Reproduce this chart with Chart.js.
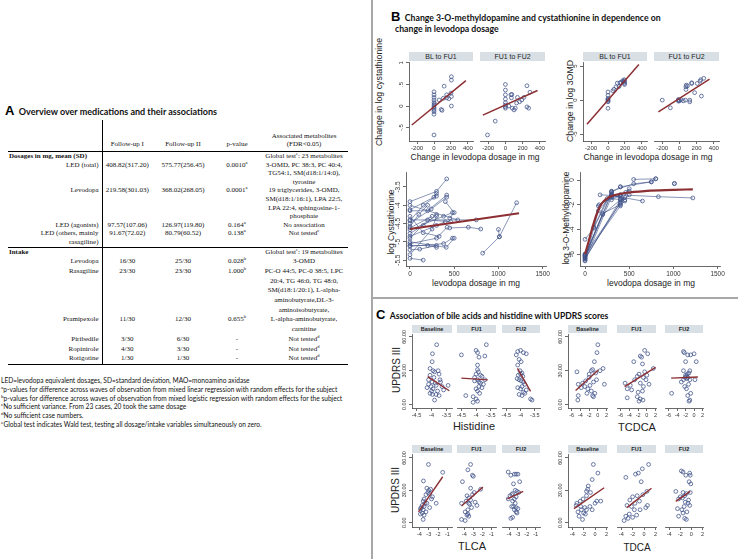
<!DOCTYPE html>
<html>
<head>
<meta charset="utf-8">
<script src="https://cdn.jsdelivr.net/npm/chart.js@4.4.1/dist/chart.umd.min.js"></script>
<style>
html, body { margin: 0; padding: 0; background: #fff; }
#page { position: relative; width: 738px; height: 559px; background: #fff; overflow: hidden; font-family: 'Liberation Sans', Arial, sans-serif; }
.abs { position: absolute; white-space: nowrap; }
.vt { position: absolute; white-space: nowrap; transform: translate(-50%, -50%) rotate(-90deg); }
.ct { position: absolute; white-space: nowrap; transform: translate(-50%, -50%); }
.strip { position: absolute; background: #d8e0e6; color: #222; text-align: center; white-space: nowrap; }
.ptitle { font-family: Lato, 'Liberation Sans', sans-serif; font-weight: bold; color: #111; }
.big { font-family: 'Liberation Sans', Arial, sans-serif; font-weight: bold; font-size: 13px; }
#tab { position: absolute; left: 8px; top: 120px; border-collapse: collapse; table-layout: fixed; width: 340px;
       font-family: 'Liberation Serif', 'Times New Roman', serif; font-size: 7px; color: #111; }
#tab td, #tab th { padding: 0; text-align: center; vertical-align: top; white-space: nowrap; }
#tab th { font-weight: normal; vertical-align: bottom; height: 28px; padding-bottom: 3px; line-height: 8px; border-bottom: 1.5px solid #000; }
#tab .lab { text-align: right; padding-right: 3px; border-right: 1px solid #000; }
#tab .sec { text-align: left; font-weight: bold; padding-left: 1px; }
#tab tbody.dose td { line-height: 8.6px; }
#tab tbody.intake td { line-height: 9.7px; }
#tab tr.end td { border-bottom: 1.3px solid #000; }
sup { font-size: 4.6px; line-height: 0; vertical-align: 3px; }
#notes { position: absolute; left: 1px; top: 376px; font-family: Lato, 'Liberation Sans', sans-serif; font-size: 6.6px; line-height: 8.8px; color: #111; white-space: nowrap; }
.frame { position: absolute; background: #a8a8a8; }
</style>
</head>
<body>
<div id="page">
  <!-- panel A -->
  <div class="abs" style="left:5px; top:101px;"><span class="big">A</span> <span class="ptitle" style="font-size:9px;">Overview over medications and their associations</span></div>
  <table id="tab">
    <colgroup><col style="width:94px"><col style="width:50px"><col style="width:62px"><col style="width:46px"><col style="width:88px"></colgroup>
    <thead><tr><th class="lab"></th><th>Follow-up I</th><th>Follow-up II</th><th>p-value</th><th>Associated metabolites<br>(FDR&lt;0.05)</th></tr></thead>
    <tbody class="dose">
      <tr><td class="lab sec">Dosages in mg, mean (SD)</td><td></td><td></td><td></td><td>Global test<sup>e</sup>: 23 metabolites</td></tr>
      <tr><td class="lab">LED (total)</td><td>408.82(317.20)</td><td>575.77(256.45)</td><td>0.0010<sup>a</sup></td><td>3-OMD, PC 38:3, PC 40:4,<br>TG54:1, SM(d18:1/14:0),<br>tyrosine</td></tr>
      <tr><td class="lab">Levodopa</td><td>219.58(301.03)</td><td>368.02(268.05)</td><td>0.0001<sup>a</sup></td><td>19 triglycerides, 3-OMD,<br>SM(d18:1/16:1), LPA 22:5,<br>LPA 22:4, sphingosine-1-<br>phosphate</td></tr>
      <tr><td class="lab">LED (agonists)</td><td>97.57(107.06)</td><td>126.97(119.80)</td><td>0.164<sup>a</sup></td><td>No association</td></tr>
      <tr class="end"><td class="lab">LED (others, mainly<br>rasagiline)</td><td>91.67(72.02)</td><td>80.79(60.52)</td><td>0.138<sup>a</sup></td><td>Not tested<sup>c</sup></td></tr>
    </tbody>
    <tbody class="intake">
      <tr><td class="lab sec">Intake</td><td></td><td></td><td></td><td>Global test<sup>e</sup>: 19 metabolites</td></tr>
      <tr><td class="lab">Levodopa</td><td>16/30</td><td>25/30</td><td>0.028<sup>b</sup></td><td>3-OMD</td></tr>
      <tr><td class="lab">Rasagiline</td><td>23/30</td><td>23/30</td><td>1.000<sup>b</sup></td><td>PC-O 44:5, PC-0 38:5, LPC<br>20:4, TG 46:0, TG 48:0,<br>SM(d18:1/20:1), L-alpha-<br>aminobutyrate,DL-3-<br>aminoisobutyrate,</td></tr>
      <tr><td class="lab">Pramipexole</td><td>11/30</td><td>12/30</td><td>0.655<sup>b</sup></td><td>L-alpha-aminobutyrate,<br>carnitine</td></tr>
      <tr><td class="lab">Piribedile</td><td>3/30</td><td>6/30</td><td>-</td><td>Not tested<sup>d</sup></td></tr>
      <tr><td class="lab">Ropinirole</td><td>4/30</td><td>3/30</td><td>-</td><td>Not tested<sup>d</sup></td></tr>
      <tr class="end"><td class="lab">Rotigotine</td><td>1/30</td><td>1/30</td><td>-</td><td>Not tested<sup>d</sup></td></tr>
    </tbody>
  </table>
  <div id="notes">
    LED=levodopa equivalent dosages, SD=standard deviation, MAO=monoamino axidase<br>
    <sup>a</sup>p-values for difference across waves of observation from mixed linear regression with random effects for the subject<br>
    <sup>b</sup>p-values for difference across waves of observation from mixed logistic regression with random effects for the subject<br>
    <sup>c</sup>No sufficient variance. From 23 cases, 20 took the same dosage<br>
    <sup>d</sup>No sufficient case numbers.<br>
    <sup>e</sup>Global test indicates Wald test, testing all dosage/intake variables simultaneously on zero.
  </div>

  <!-- frames of panels B and C -->
  <div class="frame" style="left:371px; top:0; width:2px; height:559px;"></div>
  <div class="frame" style="left:371px; top:297px; width:367px; height:2px;"></div>

  <!-- panel B titles -->
  <div class="abs" style="left:391px; top:7px;"><span class="big">B</span> <span class="ptitle" style="font-size:8.7px;">Change 3-O-methyldopamine and cystathionine in dependence on</span></div>
  <div class="abs ptitle" style="left:395px; top:23px; font-size:8.7px;">change in levodopa dosage</div>
  <div class="vt" style="left:379px; top:92px; font-size:8.8px; color:#222;">Change in log cystathionine</div>
  <div class="vt" style="left:570px; top:101px; font-size:8.8px; color:#222;">Change in log 3OMD</div>
  <div class="ct" style="left:475px; top:157px; font-size:8.5px; color:#222;">Change in levodopa dosage in mg</div>
  <div class="ct" style="left:648px; top:157px; font-size:8.5px; color:#222;">Change in levodopa dosage in mg</div>
  <div class="vt" style="left:391px; top:222px; font-size:8.5px; color:#222;">log Cystathionine</div>
  <div class="vt" style="left:566px; top:218px; font-size:8.5px; color:#222;">log 3-O-Methyldopamine</div>
  <div class="ct" style="left:476px; top:283px; font-size:8.5px; color:#222;">levodopa dosage in mg</div>
  <div class="ct" style="left:651px; top:283px; font-size:8.5px; color:#222;">levodopa dosage in mg</div>

  <!-- panel C titles -->
  <div class="abs" style="left:376px; top:305px;"><span class="big">C</span> <span class="ptitle" style="font-size:8.6px;">Association of bile acids and histidine with UPDRS scores</span></div>
  <div class="vt" style="left:396px; top:370px; font-size:10px; color:#222;">UPDRS III</div>
  <div class="vt" style="left:395px; top:490px; font-size:10px; color:#222;">UPDRS III</div>
  <div class="ct" style="left:474px; top:426px; font-size:11px; color:#222;">Histidine</div>
  <div class="ct" style="left:637px; top:427px; font-size:11px; color:#222;">TCDCA</div>
  <div class="ct" style="left:472px; top:546px; font-size:11px; color:#222;">TLCA</div>
  <div class="ct" style="left:637px; top:547px; font-size:10px; color:#222;">TDCA</div>
</div>

<script>
// ---- panel B: change scores (levodopa change in mg, change in log metabolite)
const cysDeltaBL = [[0,0.33],[0,0.26],[0,0.2],[0,0.14],[0,0.08],[0,0.02],[0,-0.02],[0,-0.05],[0,-0.09],[0,-0.13],[0,-0.19],[0,-0.67],
  [60,0.14],[85,-0.08],[95,-0.1],[120,0.46],[150,0.26],[150,0.19],[175,0.17],[200,0.3],[205,0.68],[205,0.6],[205,0.22],[205,0.0],[110,0.18],[5,0.05]];
const cysDeltaFU = [[-208,-0.67],[-118,-0.35],[0,0.5],[0,0.37],[0,0.26],[0,0.16],[0,0.08],[0,0.02],[0,-0.02],[0,-0.05],[65,0.26],[75,0.27],[70,0.19],
  [80,-0.05],[115,-0.05],[130,0.07],[100,-0.09],[165,0.1],[190,0.14],[215,0.2],[250,0.47],[285,0.32],[250,-0.02],[270,-0.05],[140,0.2],[40,0.0]];
const omdDeltaBL = [[0,0.25],[0,0],[0,-0.15],[0,-0.25],[0,1.2],[0,0.7],[0,-1.2],[58,1.37],[70,1.6],[96,1.96],[110,2.5],[130,2.0],[154,2.6],
  [172,2.85],[192,3.0],[195,2.85],[195,2.65],[195,2.45],[195,2.3],[180,2.7],[140,2.55],[0,0.1]];
const omdDeltaFU = [[-199,0],[-105,-1.13],[-11,0],[-11,-0.15],[-11,0.1],[0,-0.1],[45,-0.1],[70,0],[76,1.96],[76,1.57],[80,2.2],[94,2.1],[120,0],
  [120,-0.25],[143,2.55],[143,2.45],[177,1.1],[207,2.45],[240,2.8],[248,3.0],[256,0.6],[283,3.2],[20,0.05]];
const cysFitBL = [[-262,-0.44],[376,0.59]];
const cysFitFU = [[-262,-0.21],[373,0.36]];
const omdFitBL = [[-248,-3.53],[364,5.25]];
const omdFitFU = [[-244,-1.72],[350,3.09]];

// ---- panel B: per-subject trajectories (levodopa mg, log level)
const cysSubjects = [
  [[0,-3.9],[300,-3.62],[415,-3.28]], [[0,-4.12],[270,-3.78],[300,-3.68]], [[0,-4.15],[200,-4.15],[415,-3.72]],
  [[0,-4.4],[750,-4.4]], [[0,-4.42],[150,-4.0],[300,-3.75]], [[0,-4.5],[240,-4.1],[415,-3.78]],
  [[0,-4.58],[100,-4.25],[200,-4.0]], [[0,-4.67],[380,-4.3],[480,-4.2]], [[0,-4.77],[150,-4.55],[300,-4.25]],
  [[0,-4.9],[200,-4.4],[460,-4.45]], [[0,-5.05],[300,-4.9],[420,-4.6]], [[0,-5.1],[200,-5.1],[300,-5.15]],
  [[0,-5.12],[380,-5.05],[480,-4.9]], [[0,-5.22],[110,-5.2],[300,-5.1]], [[0,-5.35],[250,-4.65],[300,-4.3]],
  [[0,-5.45],[150,-5.5]], [[0,-4.3],[150,-4.75],[330,-4.85]], [[0,-4.0],[540,-4.4]],
  [[400,-3.9],[500,-4.2],[450,-4.35]], [[450,-4.62],[660,-4.6],[800,-4.65]], [[822,-5.31],[1011,-4.86],[1206,-3.93]],
  [[1000,-4.66],[1011,-4.86]], [[0,-4.85],[300,-4.55],[400,-4.45]], [[0,-5.0],[410,-5.15],[500,-4.9]], [[0,-4.62],[250,-4.3]]
];
const omdSubjects = [
  [[0,-6.2],[300,-1.0],[400,-0.55]], [[0,-6.3],[300,-1.1],[400,-1.5]], [[0,-6.4],[400,-1.6],[450,-1.4]],
  [[0,-6.0],[400,-1.9],[500,-1.2]], [[0,-6.1],[400,-2.1],[450,-1.7]], [[0,-6.5],[300,-1.35],[400,-1.2]],
  [[0,-6.35],[400,-1.8],[500,-0.7]], [[0,-6.2],[200,-2.7],[400,-2.0]], [[0,-6.55],[150,-2.5],[300,-1.25]],
  [[0,-4.8],[100,-3.9],[300,-0.93]], [[0,-6.1],[160,-2.0],[300,-1.2]], [[0,-6.0],[200,-2.8],[400,-1.6]],
  [[150,-2.1],[300,-1.4],[400,-1.3]], [[170,-1.2],[300,-1.25],[650,-1.7]], [[400,-0.55],[750,-0.15],[800,0.1]],
  [[550,0.05],[800,0.1]], [[400,-1.2],[830,-1.35],[1220,-1.45]], [[300,-0.9],[550,-0.3],[750,-0.15]],
  [[1010,-0.3],[1012,-0.27]], [[300,-1.6],[460,-1.0],[500,-0.9]], [[100,-3.8],[250,-1.5],[450,-1.6]]
];
const cysFitDose = [[0,-4.65],[1233,-4.22]];
const omdFitDose = [[0,-6.0],[40,-5.0],[76,-4.05],[132,-2.75],[189,-1.9],[250,-1.5],[300,-1.3],[470,-1.03],[700,-0.88],[1000,-0.8],[1220,-0.75]];

// ---- panel C: metabolite vs UPDRS III by visit
const hisBaseline = [[-3.83,53],[-3.97,45],[-3.98,38],[-4.05,32],[-3.95,30],[-3.9,29],[-3.78,30],[-3.75,27],[-4.05,26],[-3.92,24],[-4.1,22],
  [-3.98,20],[-3.88,19],[-3.85,17],[-4.02,16],[-3.95,14],[-4.15,15],[-3.7,20],[-3.65,16],[-3.6,13],[-3.45,17],[-4.05,10],[-3.97,9],
  [-3.85,9],[-3.75,8],[-3.9,4],[-4.0,12],[-3.8,12],[-4.1,18],[-3.72,22]];
const hisFU1 = [[-4.5,44],[-4.0,48],[-3.65,53],[-3.95,46],[-3.9,42],[-3.7,43],[-3.95,35],[-3.95,31],[-4.0,27],[-3.85,26],[-3.8,25],[-3.95,22],
  [-3.9,20],[-4.05,21],[-3.85,19],[-3.75,18],[-3.9,16],[-4.0,14],[-3.95,12],[-3.88,10],[-4.1,7],[-4.35,8],[-4.0,5],[-3.95,3],[-4.1,2],
  [-3.7,22],[-3.8,15],[-4.05,24],[-3.92,29]];
const hisFU2 = [[-4.1,47],[-4.0,48],[-3.9,46],[-3.8,45],[-4.15,44],[-4.05,40],[-3.98,38],[-4.1,35],[-4.02,30],[-3.95,28],[-4.08,26],[-3.92,25],
  [-4.12,23],[-4.05,22],[-3.98,21],[-3.9,20],[-3.85,18],[-3.95,16],[-4.1,15],[-4.0,14],[-3.8,13],[-3.9,11],[-3.85,10],[-4.05,9],[-3.95,8],
  [-3.65,5],[-3.6,4],[-4.0,27]];
const hisFit = [[[-4.13,24.8],[-3.41,12.3]], [[-4.5,23.4],[-3.6,21.9]], [[-4.11,32],[-3.65,11.7]]];

const tcdcaBaseline = [[0,53],[-0.2,46],[-0.8,38],[-4.8,29],[-1.5,30],[-1.2,31],[0.5,30],[1.2,32],[-0.5,28],[-2,27],[-2.8,21],[-3.5,19],
  [-4.5,18],[-1,20],[-1.8,17],[-3,16],[1.5,18],[-2.3,14],[-1.5,12],[-0.7,10],[-1.2,8],[-1,7],[-4.5,8],[-4.6,4],[-2,24],[-3.8,15],[-2.5,10],[-0.3,22]];
const tcdcaFU1 = [[-0.5,48],[-1.5,43],[-1.2,42],[-3,38],[0.2,45],[-1,36],[1.5,32],[-0.5,29],[-1.8,27],[-2.2,25],[-0.8,24],[-2.8,22],[-0.2,22],
  [-1.5,19],[-3.8,17],[-4.5,14],[-3.5,13],[-0.8,16],[0.5,18],[-2,11],[-2.2,7],[-1.5,5],[-1.8,3],[-0.9,4],[-5,19],[-4.5,6],[-1,12],[0,26]];
const tcdcaFU2 = [[-2.5,47],[-2.3,46],[-1.5,44],[0,45],[-0.8,44],[-2,38],[0.5,38],[-1,30],[-2.5,30],[-1.2,28],[-1.8,25],[-2.1,24],[-1.5,24],
  [-1.7,23],[-1,22],[-2.5,22],[0.2,22],[-3,20],[-1.3,18],[-2.2,16],[-1.8,14],[-0.8,10],[-1.5,8],[-5.3,10],[-1,4],[-1.2,3],[-2,26],[-1.6,27]];
const tcdcaFit = [[[-5.1,12.5],[0.1,30.7]], [[-5.1,16],[2,33]], [[-5.4,23.4],[0.9,24.5]]];

const tlcaBaseline = [[-3.03,54],[-3.57,38.7],[-1.5,46.7],[-3.2,32],[-3.0,30],[-2.8,31],[-3.1,28],[-2.9,27],[-2.6,24],[-2.7,22],[-3.3,26],
  [-3.5,22],[-3.6,20],[-3.4,18],[-3.7,16],[-3.5,15],[-3.8,14],[-3.9,13],[-3.6,12],[-3.3,10],[-3.7,9],[-3.9,8],[-3.5,7],[-3.6,3],[-2.9,14],
  [-2.2,18],[-3.2,18]];
const tlcaFU1 = [[-3.3,54],[-3.6,49],[-3.1,44],[-3.0,43],[-4.2,38],[-3.3,32],[-2.9,28],[-3.1,26],[-3.7,25],[-3.8,20],[-4.3,18],[-3.5,18],
  [-3.4,17],[-2.6,16],[-3.2,14],[-3.6,12],[-3.9,10],[-3.6,8],[-3.7,7],[-3.5,6],[-4.3,3],[-3.9,2],[-3.3,21],[-2.2,31],[-3.5,23],[-2.8,19]];
const tlcaFU2 = [[-4.1,47],[-3.8,44],[-3.4,45],[-3.2,45],[-3.0,45],[-2.8,38],[-3.5,36],[-3.3,30],[-3.1,29],[-3.6,27],[-3.7,26],[-3.9,25],
  [-3.2,24],[-3.4,22],[-4.1,22],[-3.6,20],[-3.3,18],[-3.5,15],[-3.2,14],[-3.0,13],[-3.4,12],[-3.2,10],[-3.1,9],[-3.6,5],[-3.8,4],[-2.9,28],[-3.7,15]];
const tlcaFit = [[[-4.1,10],[-1.5,42.6]], [[-4.3,15.5],[-1.95,33]], [[-4.2,22],[-2.4,29]]];

const tdcaBaseline = [[-0.3,54],[0.5,46],[-0.5,40],[-1.2,34],[-1.3,31],[-1.5,29],[-0.8,28],[0.3,20],[1.0,20],[-2.1,22],[-2.6,20],[-3.2,18],
  [-3.3,16],[-2.5,15],[-1.8,14],[-2.4,12],[-1.5,12],[-0.9,15],[-0.5,12],[-3.0,10],[-2.0,9],[-1.7,8],[-2.8,6],[-2.2,3],[-1.5,25],[0,18]];
const tdcaFU1 = [[0.8,54],[-0.3,50],[-1.0,46],[-1.5,45],[-3.2,42],[-0.5,38],[0.5,29],[-1.2,25],[-2.0,24],[-2.5,21],[-0.8,20],[-1.6,18],
  [-3,16],[-2.2,15],[0.3,14],[0.6,16],[-1.7,12],[-0.7,12],[-2.6,8],[-3.2,6],[-2.0,5],[-2.8,4],[-1.3,7],[-3.5,2],[-0.2,26]];
const tdcaFU2 = [[-1.8,48],[-1.5,47],[-0.3,46],[-0.2,44],[-1.0,44],[-0.4,38],[-0.1,36],[-2.8,29],[-1.5,28],[-0.9,27],[-1.2,25],[-2.0,24],
  [-1.6,23],[-0.5,21],[-0.2,28],[-2.3,22],[-1.1,19],[-0.6,18],[-0.3,16],[-1.3,15],[-2.5,13],[-1.7,12],[-0.8,10],[-1.5,9],[-2.3,6],[-1.2,4],[-0.9,3]];
const tdcaFit = [[[-3.7,13],[1.6,32.4]], [[-3.0,14],[1.3,32]], [[-2.8,19.7],[-0.2,29]]];

// ---- tick values and labels
const deltaXTicks = [-200, 0, 200, 400];
const cysDeltaTicks = [-0.5, 0, 0.5, 1];
const cysDeltaLabels = ['-.5', '0', '.5', '1'];
const omdDeltaTicks = [-5, 0, 5];
const doseTicks = [0, 500, 1000, 1500];
const cysTicks = [-5.5, -5, -4.5, -4, -3.5];
const omdTicks = [-6, -4, -2, 0];
const updrsTicks = [0, 30, 60];
const updrsLabels = ['0.00', '30.00', '60.00'];
const hisTicks = [-4.5, -4, -3.5];
const tcdcaTicks = [-6, -4, -2, 0, 2];
const tlcaTicks = [-4, -3, -2, -1];
const tdcaTicks = [-4, -2, 0, 2];
const deltaStrips = ['BL to FU1', 'FU1 to FU2'];
const visitStrips = ['Baseline', 'FU1', 'FU2'];

const page = document.getElementById('page');
const PAD = 12;
const NAVY = '#3d5088';
const MAROON = '#8c2f33';
const AXIS = '#444';
const FAM = "'Liberation Sans', Arial, sans-serif";

function pts(arr) { return arr.map(p => ({x: p[0], y: p[1]})); }

function scatterSet(arr) {
  return {data: pts(arr), showLine: false, pointRadius: 1.9, pointBorderWidth: 0.75,
    pointBorderColor: NAVY, pointBackgroundColor: 'rgba(0,0,0,0)', clip: 4};
}
function fitSet(arr, width, smooth) {
  return {data: pts(arr), showLine: true, pointRadius: 0, borderColor: MAROON, borderWidth: width || 1.5,
    cubicInterpolationMode: smooth ? 'monotone' : 'default', clip: 4};
}
function pathSet(arr) {
  return {data: pts(arr), showLine: true, borderColor: NAVY, borderWidth: 0.6, pointRadius: 1.9, pointBorderWidth: 0.75,
    pointBorderColor: NAVY, pointBackgroundColor: 'rgba(0,0,0,0)', clip: 4};
}

// Stata-style vertical tick labels on the y axis, placed from the scale's own pixels
const yRotLabels = {
  id: 'yRotLabels',
  afterDraw(chart, args, opts) {
    const s = chart.scales.y;
    if (!s || !opts.labels) return;
    const ctx = chart.ctx;
    ctx.save();
    ctx.font = `${opts.size}px ${FAM}`;
    ctx.fillStyle = '#333';
    ctx.textAlign = 'center';
    ctx.textBaseline = 'middle';
    s.ticks.forEach((t, i) => {
      ctx.save();
      ctx.translate(s.right - 4 - opts.size * 0.55, s.getPixelForValue(t.value));
      ctx.rotate(-Math.PI / 2);
      ctx.fillText(opts.labels[i], 0, 0);
      ctx.restore();
    });
    ctx.restore();
  }
};

function strip(text, left, top, w, h, size, bold) {
  const d = document.createElement('div');
  d.className = 'strip';
  d.style.cssText = `left:${left}px;top:${top}px;width:${w}px;height:${h}px;line-height:${h}px;font-size:${size}px;font-weight:${bold ? 'bold' : 'normal'}`;
  d.textContent = text;
  page.appendChild(d);
}

function tickList(vals) { return s => { s.ticks = vals.map(v => ({value: v})); }; }

function addFacet(o) {
  const yW = o.yTicks ? (o.yW || 12) : 0;
  const xH = o.xH || 11;
  const cv = document.createElement('canvas');
  const W = o.w + yW + 2 * PAD, H = o.h + xH + 2 * PAD;
  cv.width = W; cv.height = H;
  cv.style.cssText = `position:absolute;left:${o.left - yW - PAD}px;top:${o.top - PAD}px;width:${W}px;height:${H}px`;
  page.appendChild(cv);
  if (o.strip) strip(o.strip, o.left, o.top - o.stripH - 1, o.w, o.stripH, o.stripSize, o.stripBold);

  const tickSize = o.tickSize || 6;
  const tickFont = {family: FAM, size: tickSize};
  const yLabels = o.yTicks ? (o.yLabels || o.yTicks.map(String)) : null;
  new Chart(cv, {
    type: 'scatter',
    data: {datasets: o.datasets},
    plugins: [yRotLabels],
    options: {
      responsive: false, animation: false, devicePixelRatio: 1,
      layout: {padding: PAD},
      plugins: {legend: {display: false}, tooltip: {enabled: false},
        yRotLabels: {labels: yLabels, size: tickSize}},
      scales: {
        x: {
          type: 'linear', min: o.xMin, max: o.xMax,
          afterBuildTicks: tickList(o.xTicks),
          afterFit: s => { s.height = xH; s.paddingLeft = 0; s.paddingRight = 0; },
          ticks: {font: tickFont, color: '#333', padding: 1, maxRotation: 0, autoSkip: false,
            callback: (v, i) => String(o.xTicks[i])},
          grid: {drawOnChartArea: false, tickLength: 3, color: AXIS, lineWidth: 0.8},
          border: {color: AXIS, width: 0.8}
        },
        y: {
          type: 'linear', min: o.yMin, max: o.yMax, display: !!o.yTicks,
          afterBuildTicks: tickList(o.yTicks || []),
          afterFit: s => { s.width = yW; s.paddingTop = 0; s.paddingBottom = 0; },
          ticks: {display: false, autoSkip: false},
          grid: {drawOnChartArea: false, tickLength: 3, color: AXIS, lineWidth: 0.8},
          border: {color: AXIS, width: 0.8}
        }
      }
    }
  });
}

// panel B, top: change vs change facets
const deltaFacets = [
  {left: 409, data: cysDeltaBL, fit: cysFitBL, yTicks: cysDeltaTicks, yLabels: cysDeltaLabels, y: [-0.81, 1.02], w: 64},
  {left: 480, data: cysDeltaFU, fit: cysFitFU, y: [-0.81, 1.02], w: 65},
  {left: 583, data: omdDeltaBL, fit: omdFitBL, yTicks: omdDeltaTicks, y: [-6.0, 5.6], w: 64},
  {left: 654, data: omdDeltaFU, fit: omdFitFU, y: [-6.0, 5.6], w: 65}
];
deltaFacets.forEach((f, i) => {
  addFacet({left: f.left, top: 62, w: f.w, h: 79, xMin: -295, xMax: 460, xTicks: deltaXTicks,
    yMin: f.y[0], yMax: f.y[1], yTicks: f.yTicks, yLabels: f.yLabels, yW: 12,
    strip: deltaStrips[i % 2], stripH: 9, stripSize: 7,
    datasets: [fitSet(f.fit, 1.5), scatterSet(f.data)]});
});

// panel B, bottom: trajectories over dose
addFacet({left: 406, top: 172, w: 140, h: 94, xMin: -45, xMax: 1538, xTicks: doseTicks,
  yMin: -5.66, yMax: -3.09, yTicks: cysTicks, yW: 14, tickSize: 6.5,
  datasets: [fitSet(cysFitDose, 2)].concat(cysSubjects.map(pathSet))});
addFacet({left: 580, top: 172, w: 140, h: 94, xMin: -57, xMax: 1527, xTicks: doseTicks,
  yMin: -6.96, yMax: 0.65, yTicks: omdTicks, yW: 14, tickSize: 6.5,
  datasets: [fitSet(omdFitDose, 2.2, true)].concat(omdSubjects.map(pathSet))});

// panel C: 4 metabolites x 3 visits
const cGroups = [
  {lefts: [412, 457, 502], widths: [40, 39, 38], top: 334, h: 74, x: [-4.65, -3.32], xTicks: hisTicks, y: [-3, 62.5],
   sets: [hisBaseline, hisFU1, hisFU2], fits: hisFit},
  {lefts: [568, 617, 665], widths: [39, 39, 38], top: 334, h: 74, x: [-6.85, 2.1], xTicks: tcdcaTicks, y: [-3, 62.5],
   sets: [tcdcaBaseline, tcdcaFU1, tcdcaFU2], fits: tcdcaFit},
  {lefts: [412, 457, 502], widths: [40, 39, 38], top: 454, h: 73, x: [-4.8, -0.5], xTicks: tlcaTicks, y: [-4, 63.7],
   sets: [tlcaBaseline, tlcaFU1, tlcaFU2], fits: tlcaFit},
  {lefts: [568, 617, 665], widths: [39, 39, 38], top: 454, h: 73, x: [-4.75, 2.1], xTicks: tdcaTicks, y: [-4, 63.7],
   sets: [tdcaBaseline, tdcaFU1, tdcaFU2], fits: tdcaFit}
];
cGroups.forEach(g => {
  g.sets.forEach((set, i) => {
    addFacet({left: g.lefts[i], top: g.top, w: g.widths[i], h: g.h, xMin: g.x[0], xMax: g.x[1], xTicks: g.xTicks,
      yMin: g.y[0], yMax: g.y[1], yTicks: i === 0 ? updrsTicks : null, yLabels: updrsLabels, yW: 16, tickSize: 5.5,
      strip: visitStrips[i], stripH: 8, stripSize: 5.5, stripBold: true,
      datasets: [fitSet(g.fits[i], 1.4), scatterSet(set)]});
  });
});
</script>
</body>
</html>
